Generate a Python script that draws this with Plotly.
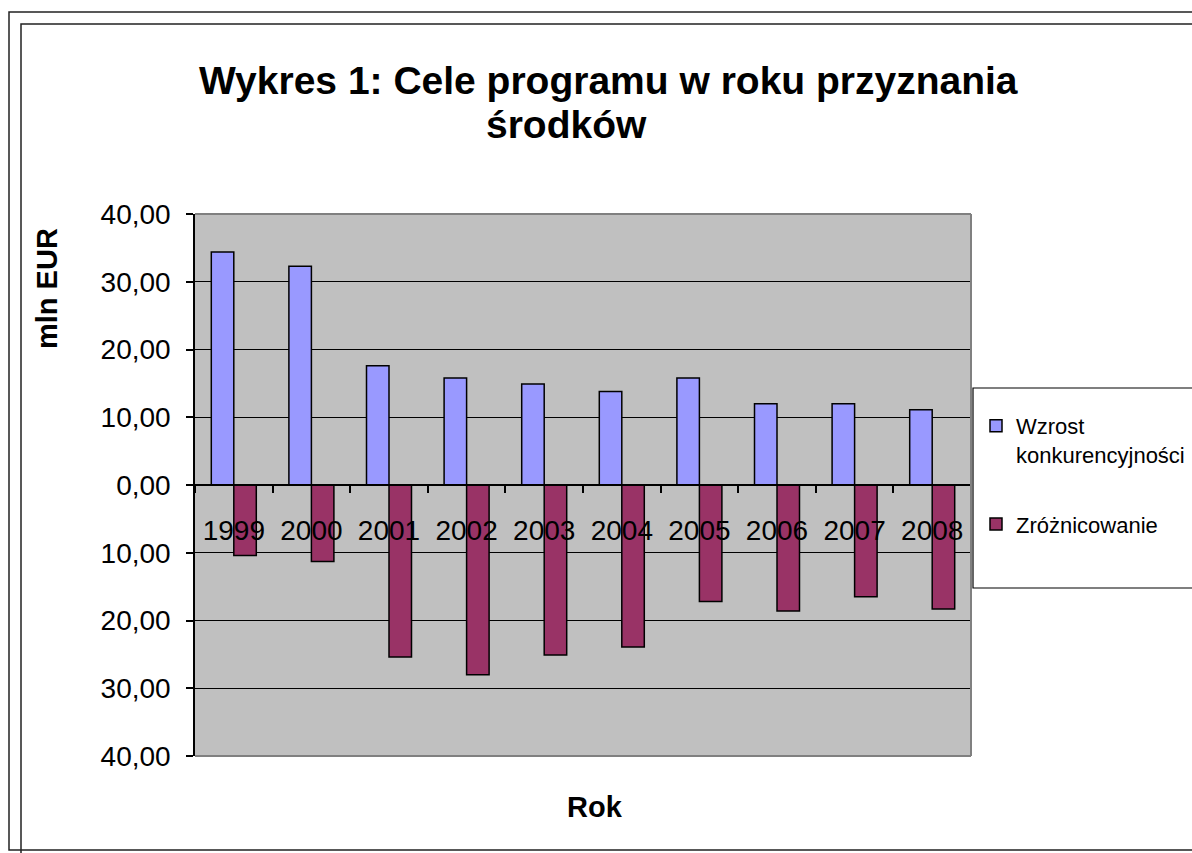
import plotly.graph_objects as go

# ---- data ----
years = ["1999", "2000", "2001", "2002", "2003", "2004", "2005", "2006", "2007", "2008"]
wzrost = [34.4, 32.3, 17.6, 15.8, 14.9, 13.8, 15.8, 12.0, 12.0, 11.1]
zroznicowanie = [-10.4, -11.3, -25.4, -28.0, -25.1, -23.9, -17.2, -18.6, -16.5, -18.3]
series_names = ["Wzrost<br>konkurencyjności", "Zróżnicowanie"]
y_tick_values = [-40, -30, -20, -10, 0, 10, 20, 30, 40]
y_tick_labels = [f"{abs(v):.2f}".replace(".", ",") for v in y_tick_values]
title_line1 = "Wykres 1: Cele programu w roku przyznania"
title_line2 = "środków"
y_title = "mln EUR"
x_title = "Rok"

# ---- layout geometry (pixels) ----
W, H = 1192, 853
PL, PR, PT, PB = 195, 971, 214, 756  # plot area


def px(x):
    return (x - PL) / (PR - PL)


def py(y):
    return (PB - y) / (PB - PT)


FONT = "Liberation Sans, Arial, sans-serif"

fig = go.Figure()
fig.add_trace(go.Bar(
    x=years, y=wzrost, name=series_names[0], legendgroup="a",
    marker=dict(color="#9999FF", line=dict(color="black", width=1.5)),
))
fig.add_trace(go.Bar(
    x=years, y=zroznicowanie, name=series_names[1], legendgroup="b",
    marker=dict(color="#993366", line=dict(color="black", width=1.5)),
))

shapes = []
# outer double frame
line_style = dict(color="#222222", width=1.5)
shapes.append(dict(type="rect", xref="paper", yref="paper",
                   x0=px(9), x1=px(1210), y0=py(850), y1=py(12), line=line_style))
shapes.append(dict(type="rect", xref="paper", yref="paper",
                   x0=px(21), x1=px(1220), y0=py(870), y1=py(24), line=line_style))
# plot area border (gray) top, right, bottom
gray = dict(color="#808080", width=2)
shapes.append(dict(type="line", xref="paper", yref="paper", x0=0, x1=1, y0=1, y1=1, line=gray))
shapes.append(dict(type="line", xref="paper", yref="paper", x0=1, x1=1, y0=0, y1=1, line=gray))
shapes.append(dict(type="line", xref="paper", yref="paper", x0=0, x1=1, y0=0, y1=0, line=gray))
# legend box
shapes.append(dict(type="rect", xref="paper", yref="paper",
                   x0=px(973), x1=px(1220), y0=py(588), y1=py(388),
                   line=dict(color="black", width=1.2), fillcolor="white", layer="below"))

annotations = [
    dict(text=f"<b>{title_line1}</b>", xref="paper", yref="paper", x=px(608), y=py(80),
         xanchor="center", yanchor="middle", showarrow=False,
         font=dict(family=FONT, size=39, color="black")),
    dict(text=f"<b>{title_line2}</b>", xref="paper", yref="paper", x=px(566), y=py(125),
         xanchor="center", yanchor="middle", showarrow=False,
         font=dict(family=FONT, size=39, color="black")),
    dict(text=f"<b>{y_title}</b>", xref="paper", yref="paper", x=px(47), y=py(289),
         xanchor="center", yanchor="middle", showarrow=False, textangle=-90,
         font=dict(family=FONT, size=29, color="black")),
    dict(text=f"<b>{x_title}</b>", xref="paper", yref="paper", x=px(595), y=py(807),
         xanchor="center", yanchor="middle", showarrow=False,
         font=dict(family=FONT, size=29, color="black")),
]

fig.update_layout(
    width=W, height=H,
    margin=dict(l=PL, r=W - PR, t=PT, b=H - PB, autoexpand=False, pad=0),
    paper_bgcolor="white",
    plot_bgcolor="#C0C0C0",
    barmode="group",
    bargap=0.42,
    bargroupgap=0,
    font=dict(family=FONT, color="black"),
    showlegend=True,
    legend=dict(
        x=px(976), y=py(405), xanchor="left", yanchor="top",
        bgcolor="rgba(0,0,0,0)", borderwidth=0,
        font=dict(family=FONT, size=22, color="black"),
        traceorder="grouped", tracegroupgap=38, valign="top",
        itemwidth=30,
    ),
    shapes=shapes,
    annotations=annotations,
    xaxis=dict(
        type="category",
        anchor="free", position=0.5,
        showline=True, linecolor="black", linewidth=1.5,
        ticks="outside", tickson="boundaries", ticklen=7, tickwidth=1.5, tickcolor="black",
        ticklabelstandoff=21,
        tickfont=dict(family=FONT, size=28, color="black"),
        showgrid=False, zeroline=False,
        layer="above traces",
    ),
    yaxis=dict(
        range=[-40, 40],
        tickvals=y_tick_values, ticktext=y_tick_labels,
        showline=True, linecolor="black", linewidth=1.5,
        ticks="outside", ticklen=7, tickwidth=1.5, tickcolor="black",
        ticklabelstandoff=10,
        tickfont=dict(family=FONT, size=28, color="black"),
        showgrid=True, gridcolor="black", gridwidth=1.3,
        zeroline=True, zerolinecolor="black", zerolinewidth=1.3,
    ),
)

fig.write_html("out.html", config={"displayModeBar": False},
               post_script="document.body.style.margin='0';")
